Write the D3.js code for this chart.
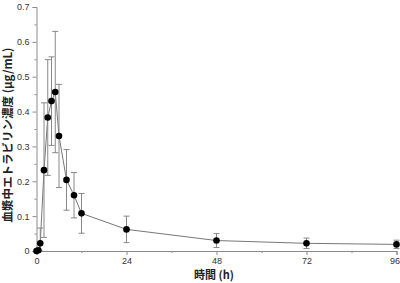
<!DOCTYPE html>
<html><head><meta charset="utf-8">
<script src="https://cdn.jsdelivr.net/npm/d3@7"></script>
<style>body{margin:0;background:#fff;}svg{display:block;}</style>
</head><body>
<svg id="c" width="400" height="283"></svg>
<script>
const times = [0, 0.5, 1, 2, 3, 4, 5, 6, 8, 10, 12, 24, 48, 72, 96];
const means = [0, 0.002, 0.022, 0.232, 0.383, 0.430, 0.456, 0.330, 0.204, 0.160, 0.108, 0.062, 0.030, 0.022, 0.019];
const sds   = [0, 0, 0.044, 0.193, 0.166, 0.127, 0.174, 0.148, 0.087, 0.065, 0.057, 0.038, 0.020, 0.015, 0.012];
const xTicks = [0, 24, 48, 72, 96];
const xMinor = [12, 36, 60, 84];
const yTicks = [0, 0.1, 0.2, 0.3, 0.4, 0.5, 0.6, 0.7];
const yMinor = [0.05, 0.15, 0.25, 0.35, 0.45, 0.55, 0.65];
const xTitle = "時間 (h)";
const yTitle = "血漿中エトラビリン濃度 (μg/mL)";

const svg = d3.select("#c");
const L = 36.5, R = 396.5, T = 7, B = 251;
const x = d3.scaleLinear().domain([0, 96]).range([L, R]);
const y = d3.scaleLinear().domain([0, 0.7]).range([B, T]);
const axisColor = "#8a8a8a";
const numFont = "'Liberation Sans', Arial, sans-serif";
const jpFont = "'Noto Sans CJK JP', sans-serif";

// Y axis
const ya = svg.append("g").attr("transform", `translate(${L},0)`)
  .call(d3.axisLeft(y).tickValues(yTicks).tickSize(4).tickPadding(3)
    .tickFormat(d => d === 0 ? "0" : d3.format(".1f")(d)));
ya.select(".domain").attr("stroke", axisColor);
ya.selectAll(".tick line").attr("stroke", axisColor);
ya.selectAll("text").attr("font-family", numFont).attr("font-size", 9).attr("fill", "#333");
const yam = svg.append("g").attr("transform", `translate(${L},0)`)
  .call(d3.axisLeft(y).tickValues(yMinor).tickSize(2).tickFormat(""));
yam.select(".domain").remove();
yam.selectAll(".tick line").attr("stroke", axisColor);

// X axis
const xa = svg.append("g").attr("transform", `translate(0,${B})`)
  .call(d3.axisBottom(x).tickValues(xTicks).tickSize(4).tickPadding(3));
xa.select(".domain").attr("stroke", axisColor);
xa.selectAll(".tick line").attr("stroke", axisColor);
xa.selectAll("text").attr("font-family", numFont).attr("font-size", 9).attr("fill", "#333")
  .attr("dx", d => d === 96 ? -2 : 0);
const xam = svg.append("g").attr("transform", `translate(0,${B})`)
  .call(d3.axisBottom(x).tickValues(xMinor).tickSize(2).tickFormat(""));
xam.select(".domain").remove();
xam.selectAll(".tick line").attr("stroke", axisColor);

const data = times.map((t, i) => ({t, m: means[i], s: sds[i]}));

// line
svg.append("path").datum(data)
  .attr("fill", "none").attr("stroke", "#777").attr("stroke-width", 1)
  .attr("d", d3.line().x(d => x(d.t)).y(d => y(d.m)));

// error bars
const eb = svg.append("g").attr("stroke", "#888").attr("stroke-width", 1);
data.filter(d => d.s > 0).forEach(d => {
  const cx = x(d.t), y1 = y(d.m + d.s), y2 = y(Math.max(0, d.m - d.s));
  eb.append("line").attr("x1", cx).attr("x2", cx).attr("y1", y1).attr("y2", y2);
  eb.append("line").attr("x1", cx - 3).attr("x2", cx + 3).attr("y1", y1).attr("y2", y1);
  eb.append("line").attr("x1", cx - 3).attr("x2", cx + 3).attr("y1", y2).attr("y2", y2);
});

// points
svg.append("g").selectAll("circle").data(data).join("circle")
  .attr("cx", d => x(d.t)).attr("cy", d => y(d.m)).attr("r", 3.3).attr("fill", "#000");

// titles
svg.append("text").attr("x", 214).attr("y", 279).attr("text-anchor", "middle")
  .attr("font-family", jpFont).attr("font-weight", "bold").attr("font-size", 11).attr("fill", "#222")
  .text(xTitle);
svg.append("text").attr("transform", "translate(12,135) rotate(-90)").attr("text-anchor", "middle")
  .attr("font-family", jpFont).attr("font-weight", "bold").attr("font-size", 11.5).attr("fill", "#222")
  .text(yTitle);
</script>
</body></html>
